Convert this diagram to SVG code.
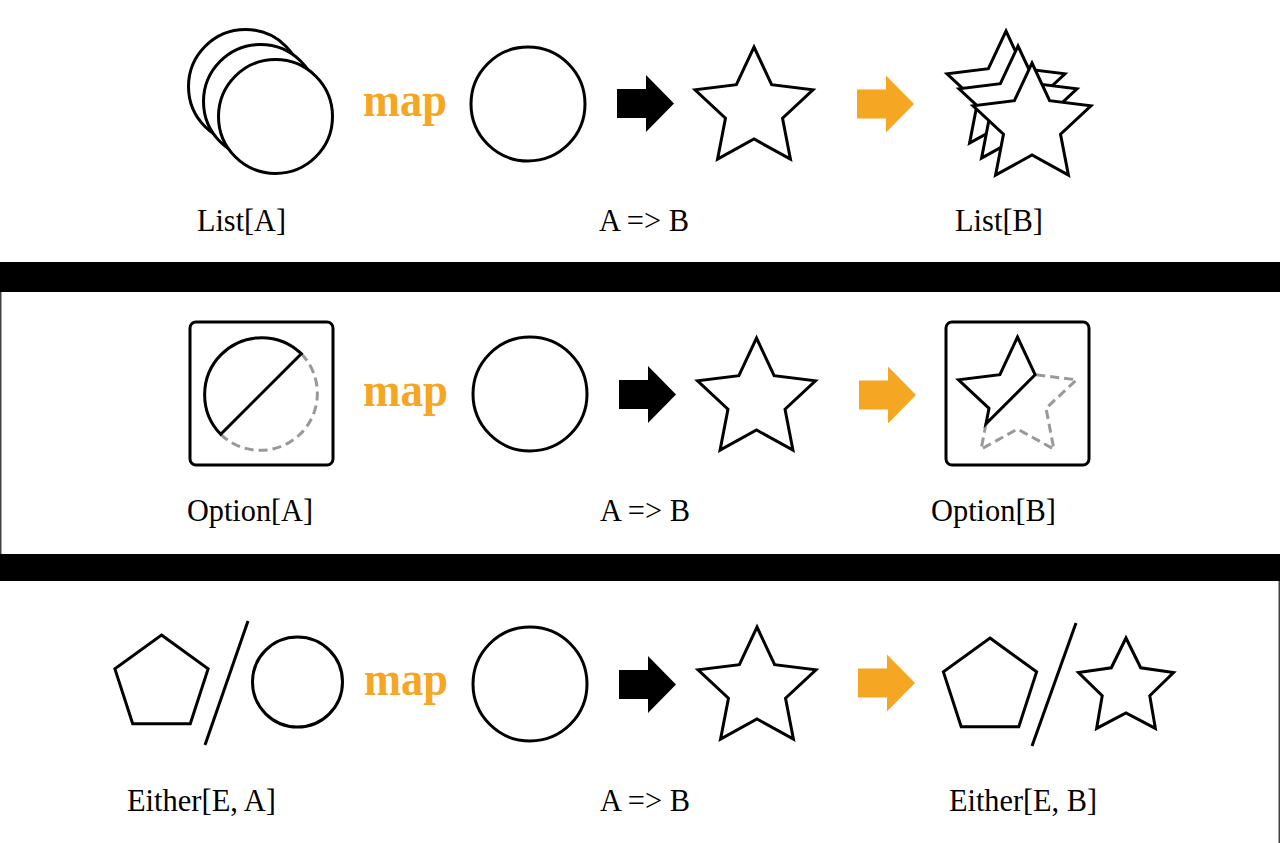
<svg xmlns="http://www.w3.org/2000/svg" xmlns:xlink="http://www.w3.org/1999/xlink" width="1280" height="843" viewBox="0 0 1280 843">
<style>
.sh{fill:#fff;stroke:#000;stroke-width:3;stroke-linejoin:miter}
.dash{fill:none;stroke:#999;stroke-width:3;stroke-dasharray:9 5}
.ln{fill:none;stroke:#000;stroke-width:3}
.lbl{font-family:"Liberation Serif","Times New Roman",serif;font-size:32px;fill:#000}
.map{font-family:"Liberation Serif","Times New Roman",serif;font-size:48px;font-weight:bold;fill:#F5A623}
.box{fill:#fff;stroke:#000;stroke-width:3}
</style>
<defs>
<path id="arrow" d="M0,-14.5 H29 V-28.5 L57,0 L29,28.5 V14.5 H0 Z"/>
<polygon id="star" points="0,-62 17.63,-24.27 58.97,-19.16 28.53,9.27 36.44,50.16 0,30 -36.44,50.16 -28.53,9.27 -58.97,-19.16 -17.63,-24.27"/>
<polygon id="pent" points="0,-49 46.6,-15.14 28.8,39.64 -28.8,39.64 -46.6,-15.14"/>
</defs>
<rect width="1280" height="843" fill="#fff"/>
<g id="frame">
<rect x="0" y="262" width="1280" height="30" fill="#000"/>
<rect x="0" y="554" width="1280" height="27" fill="#000"/>
<line x1="0.75" y1="292" x2="0.75" y2="554" stroke="#444" stroke-width="1.5"/>
<line x1="1279.25" y1="581" x2="1279.25" y2="843" stroke="#444" stroke-width="1.5"/>
</g>
<g id="connectors">
<use xlink:href="#arrow" href="#arrow" x="617" y="103.5" fill="#000"/>
<use xlink:href="#arrow" href="#arrow" x="857" y="104" fill="#F5A623"/>
<use xlink:href="#arrow" href="#arrow" x="619" y="394.5" fill="#000"/>
<use xlink:href="#arrow" href="#arrow" x="859" y="395" fill="#F5A623"/>
<use xlink:href="#arrow" href="#arrow" x="619" y="684.5" fill="#000"/>
<use xlink:href="#arrow" href="#arrow" x="858" y="683" fill="#F5A623"/>
</g>
<g id="list-a">
<circle class="sh" cx="245.5" cy="86.5" r="57"/>
<circle class="sh" cx="260.5" cy="101.5" r="57"/>
<circle class="sh" cx="275.5" cy="116.5" r="57"/>
<text class="lbl" x="197" y="231" textLength="89" lengthAdjust="spacingAndGlyphs">List[A]</text>
</g>
<g id="map-1"><text class="map" x="363" y="116" textLength="84" lengthAdjust="spacingAndGlyphs">map</text></g>
<g id="func-1">
<circle class="sh" cx="528" cy="104" r="57"/>
<use xlink:href="#star" href="#star" class="sh" x="754" y="109"/>
<text class="lbl" x="599" y="231" textLength="90" lengthAdjust="spacingAndGlyphs">A =&gt; B</text>
</g>
<g id="list-b">
<use xlink:href="#star" href="#star" class="sh" x="1006" y="93"/>
<use xlink:href="#star" href="#star" class="sh" x="1018" y="108"/>
<use xlink:href="#star" href="#star" class="sh" x="1032" y="125"/>
<text class="lbl" x="955" y="231" textLength="88" lengthAdjust="spacingAndGlyphs">List[B]</text>
</g>
<g id="option-a">
<rect class="box" x="190" y="322" width="143" height="143" rx="6"/>
<path class="dash" d="M220.7,434.3 A57,57 0 0 0 301.3,353.7"/>
<path class="sh" d="M301.3,353.7 A57,57 0 0 0 220.7,434.3 Z"/>
<text class="lbl" x="187" y="521" textLength="126" lengthAdjust="spacingAndGlyphs">Option[A]</text>
</g>
<g id="map-2"><text class="map" x="363" y="406" textLength="85" lengthAdjust="spacingAndGlyphs">map</text></g>
<g id="func-2">
<circle class="sh" cx="530" cy="394" r="57"/>
<use xlink:href="#star" href="#star" class="sh" x="756.5" y="400"/>
<text class="lbl" x="600" y="521" textLength="90" lengthAdjust="spacingAndGlyphs">A =&gt; B</text>
</g>
<g id="option-b">
<rect class="box" x="946" y="322" width="143" height="143" rx="6"/>
<path class="dash" d="M986,423.8 L981.1,449.2 L1017.5,429 L1053.9,449.2 L1046,408.3 L1076.5,379.8 L1035.1,374.7"/>
<path class="sh" d="M1035.1,374.7 L1017.5,337 L999.9,374.7 L958.5,379.8 L989,408.3 L986,423.8 Z"/>
<text class="lbl" x="931" y="521" textLength="125" lengthAdjust="spacingAndGlyphs">Option[B]</text>
</g>
<g id="either-a">
<use xlink:href="#pent" href="#pent" class="sh" x="161.5" y="684"/>
<line class="ln" x1="248" y1="621" x2="205" y2="745"/>
<circle class="sh" cx="297.5" cy="682" r="45"/>
<text class="lbl" x="127" y="811" textLength="149" lengthAdjust="spacingAndGlyphs">Either[E, A]</text>
</g>
<g id="map-3"><text class="map" x="364" y="695" textLength="84" lengthAdjust="spacingAndGlyphs">map</text></g>
<g id="func-3">
<circle class="sh" cx="530" cy="684" r="57"/>
<use xlink:href="#star" href="#star" class="sh" x="757" y="689"/>
<text class="lbl" x="600" y="811" textLength="90" lengthAdjust="spacingAndGlyphs">A =&gt; B</text>
</g>
<g id="either-b">
<use xlink:href="#pent" href="#pent" class="sh" x="990" y="687"/>
<line class="ln" x1="1076" y1="623" x2="1032" y2="746"/>
<polygon class="sh" transform="translate(1126,688)" points="0,-50 14.69,-20.23 47.55,-15.45 23.78,7.73 29.39,40.45 0,25 -29.39,40.45 -23.78,7.73 -47.55,-15.45 -14.69,-20.23"/>
<text class="lbl" x="949" y="811" textLength="148" lengthAdjust="spacingAndGlyphs">Either[E, B]</text>
</g>
</svg>
